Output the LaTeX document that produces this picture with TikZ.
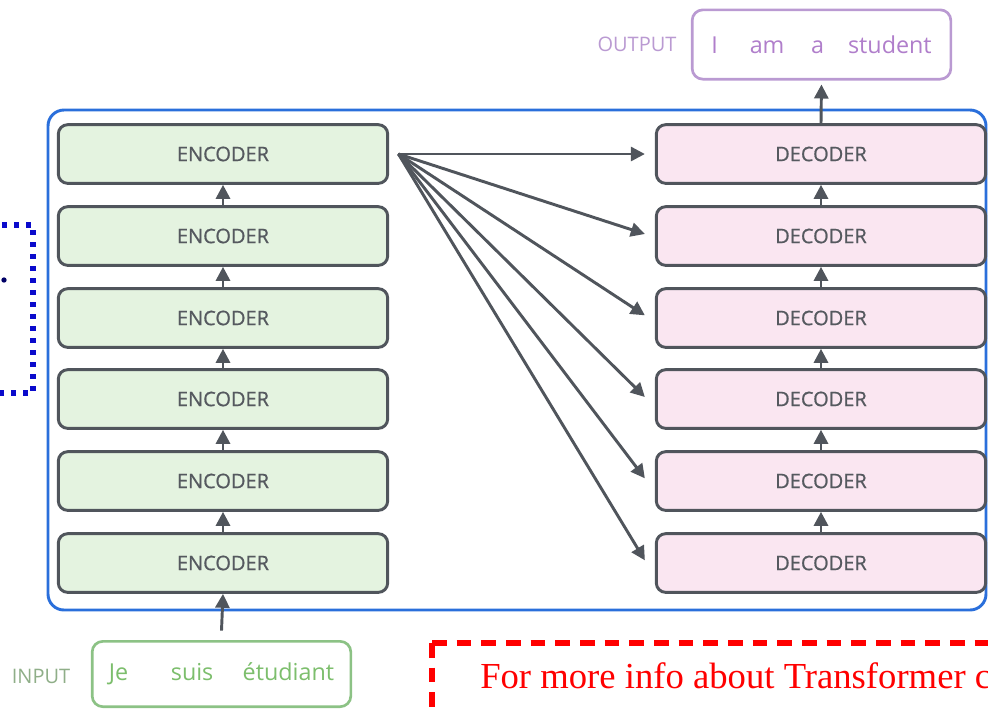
\documentclass[tikz,border=0pt]{standalone}
\usepackage{fontspec}
\setmainfont{Open Sans}
\newfontfamily\stackfont{Open Sans}[FakeBold=0.7]
\newfontfamily\notefont{Liberation Serif}
\usetikzlibrary{arrows.meta,positioning}

\definecolor{boxgray}{HTML}{50555C}
\definecolor{txtgray}{HTML}{55595F}
\definecolor{encgreen}{HTML}{E4F3E0}
\definecolor{decpink}{HTML}{FAE6F1}
\definecolor{stackblue}{HTML}{2A6FDB}
\definecolor{ingreen}{HTML}{8CC285}
\definecolor{inword}{HTML}{7CBE6C}
\definecolor{inlabel}{HTML}{8FAE88}
\definecolor{outpurple}{HTML}{BA9AD2}
\definecolor{outword}{HTML}{B07ECB}
\definecolor{dotblue}{HTML}{0A0ACC}

\begin{document}
\begin{tikzpicture}[x=0.75pt, y=-0.75pt,
    >={Triangle[length=10.5pt,width=10.5pt]},
    encbox/.style={rectangle, rounded corners=7pt, draw=boxgray, line width=2.2pt, fill=encgreen,
        minimum width=247pt, minimum height=44pt, text=txtgray, font=\stackfont\fontsize{15}{18}\selectfont},
    decbox/.style={encbox, fill=decpink},
    link/.style={->, draw=boxgray, line width=2.2pt},
    wordbox/.style={rectangle, rounded corners=8pt, line width=2pt, fill=white,
        minimum width=194pt, font=\fontsize{17.5}{20}\selectfont}]
    \useasboundingbox (0,0) rectangle (988,708);
    \clip (0,0) rectangle (988,708);

    % Frame round both stacks
    \draw[stackblue, line width=2.2pt, rounded corners=12pt] (48,110) rectangle (986,610);

    % Encoder stack
    \node[encbox] (enc1) at (223,154) {ENCODER};
    \node[encbox] (enc2) at (223,236) {ENCODER};
    \node[encbox] (enc3) at (223,318) {ENCODER};
    \node[encbox] (enc4) at (223,399) {ENCODER};
    \node[encbox] (enc5) at (223,481) {ENCODER};
    \node[encbox] (enc6) at (223,563) {ENCODER};

    % Decoder stack
    \node[decbox] (dec1) at (821,154) {DECODER};
    \node[decbox] (dec2) at (821,236) {DECODER};
    \node[decbox] (dec3) at (821,318) {DECODER};
    \node[decbox] (dec4) at (821,399) {DECODER};
    \node[decbox] (dec5) at (821,481) {DECODER};
    \node[decbox] (dec6) at (821,563) {DECODER};

    % Input and output sentences
    \node[wordbox, draw=ingreen, text=inword, minimum height=49pt] (inp) at (221.5,674)
        {Je\hspace{32pt}suis\hspace{22pt}étudiant};
    \node[text=inlabel, font=\fontsize{15}{18}\selectfont] (inlab) at (41,676) {INPUT};
    \node[wordbox, draw=outpurple, text=outword, minimum height=52pt] (outp) at (821.5,44.5)
        {I\hspace{24pt}am\hspace{20pt}a\hspace{18pt}student};
    \node[text=outpurple, font=\fontsize{15}{18}\selectfont] (outlab) at (637,44) {OUTPUT};

    % Arrows up the stacks
    \draw[link] (enc6) -- (enc5);
    \draw[link] (enc5) -- (enc4);
    \draw[link] (enc4) -- (enc3);
    \draw[link] (enc3) -- (enc2);
    \draw[link] (enc2) -- (enc1);
    \draw[link] (dec6) -- (dec5);
    \draw[link] (dec5) -- (dec4);
    \draw[link] (dec4) -- (dec3);
    \draw[link] (dec3) -- (dec2);
    \draw[link] (dec2) -- (dec1);
    \draw[link] ([yshift=7pt]inp.north) -- (enc6.south);
    \draw[link, shorten >=3pt] (dec1.north) -- (outp.south);

    % Last encoder feeds every decoder
    \coordinate (fan) at ([xshift=7pt]enc1.east);
    \draw[link] (fan) -- ([xshift=-7.5pt]dec1.west);
    \draw[link] (fan) -- ([xshift=-7.5pt,yshift=1.5pt]dec2.west);
    \draw[link] (fan) -- ([xshift=-7.5pt,yshift=2pt]dec3.west);
    \draw[link] (fan) -- ([xshift=-7.5pt,yshift=1.5pt]dec4.west);
    \draw[link] (fan) -- ([xshift=-7.5pt,yshift=2pt]dec5.west);
    \draw[link] (fan) -- ([xshift=-7.5pt,yshift=2pt]dec6.west);

    % Dotted bracket on the left edge
    \draw[dotblue, line width=3.8pt, dash pattern=on 3.8pt off 5.2pt] (-10,225) -- (33,225) -- (33,393) -- (-10,393);
    \fill[blue!40!black] (4,280) circle (2pt);

    % Red note, cut by the edge
    \draw[red, line width=4.5pt, dash pattern=on 11pt off 7.5pt] (432,643) -- (1100,643);
    \draw[red, line width=4.5pt, dash pattern=on 11pt off 7.5pt] (432,643) -- (432,800);
    \node[anchor=base west, text=red, font=\notefont\fontsize{27.5}{32}\selectfont, inner sep=0pt] (note) at (480,688)
        {For more info about Transformer c};
\end{tikzpicture}
\end{document}
